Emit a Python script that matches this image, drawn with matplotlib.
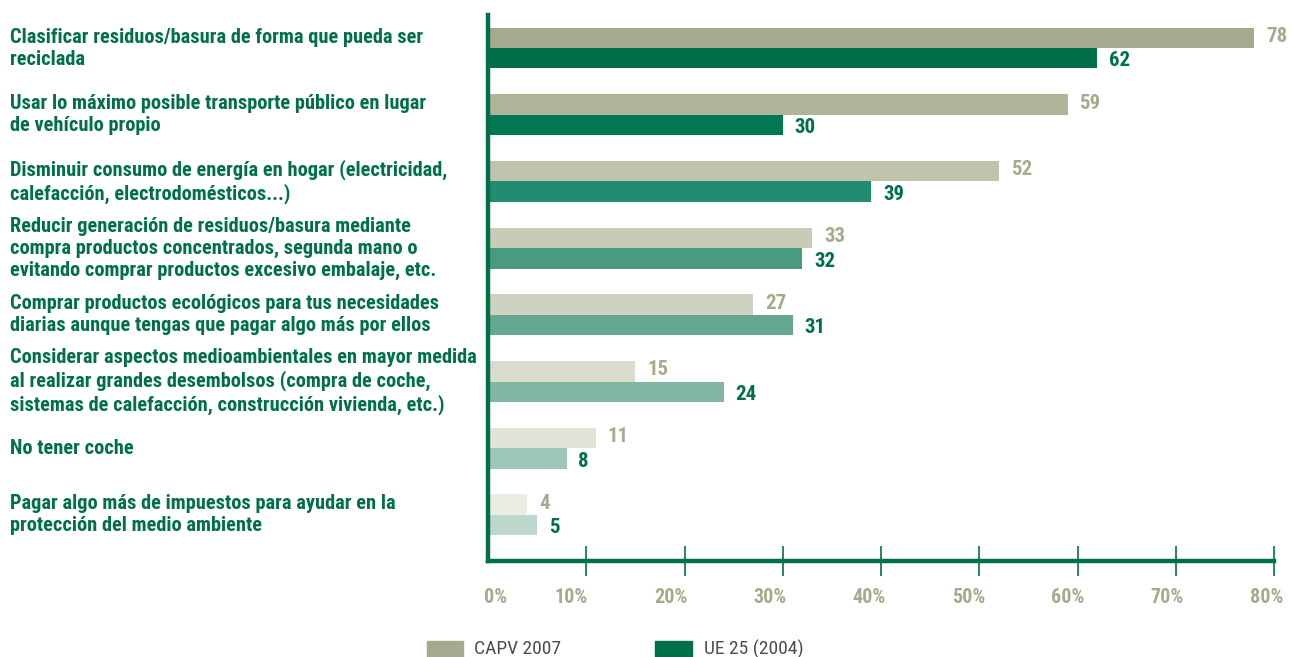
import matplotlib
matplotlib.use("Agg")
import matplotlib.pyplot as plt
from matplotlib import font_manager
from matplotlib.patches import Rectangle
from matplotlib.transforms import ScaledTranslation

# fuente estrecha si existe alguna instalada
disponibles = {f.name for f in font_manager.fontManager.ttflist}
lista = ['Liberation Sans Narrow', 'Roboto Condensed', 'Open Sans Condensed']
familia = next((n for n in lista if n in disponibles), None)
estiramiento = 'normal'
if familia is None:
    familia = 'DejaVu Sans'
    estiramiento = 'condensed'
plt.rcParams['font.family'] = [familia, 'DejaVu Sans']
plt.rcParams['font.stretch'] = estiramiento

# acciones, de mayor a menor respuesta en la CAPV
acciones = [
    "Clasificar residuos/basura de forma que pueda ser\nreciclada",
    "Usar lo máximo posible transporte público en lugar\nde vehículo propio",
    "Disminuir consumo de energía en hogar (electricidad,\ncalefacción, electrodomésticos...)",
    "Reducir generación de residuos/basura mediante\ncompra productos concentrados, segunda mano o\nevitando comprar productos excesivo embalaje, etc.",
    "Comprar productos ecológicos para tus necesidades\ndiarias aunque tengas que pagar algo más por ellos",
    "Considerar aspectos medioambientales en mayor medida\nal realizar grandes desembolsos (compra de coche,\nsistemas de calefacción, construcción vivienda, etc.)",
    "No tener coche",
    "Pagar algo más de impuestos para ayudar en la\nprotección del medio ambiente",
]
capv_2007 = [78, 59, 52, 33, 27, 15, 11, 4]
ue25_2004 = [62, 30, 39, 32, 31, 24, 8, 5]

# colores que se aclaran de una fila a la siguiente
col_capv = ["#a6a98d", "#afb398", "#c0c3ac", "#c8cbb6", "#d0d2c0", "#dadccc", "#e3e4d9", "#ebece4"]
col_ue = ["#00704a", "#007853", "#228c70", "#4a9a7e", "#66a792", "#82b6a3", "#9ec6b7", "#bcd8cd"]

verde = "#00704a"
gris = "#a8aa8e"

fig = plt.figure(figsize=(12.92, 6.57), dpi=100)
ax = fig.add_axes([488/1292, 1 - 561/657, (1274 - 488)/1292, (561 - 15)/657])

alto = 0.307
for i in range(len(acciones)):
    ax.barh(i - alto/2, capv_2007[i], height=alto, color=col_capv[i])
    ax.barh(i + alto/2, ue25_2004[i], height=alto, color=col_ue[i])
    ax.text(capv_2007[i] + 1.2, i - alto/2 - 0.02, str(capv_2007[i]), color=gris,
            fontsize=15, fontweight='bold', va='center', ha='left')
    ax.text(ue25_2004[i] + 1.2, i + alto/2 + 0.04, str(ue25_2004[i]), color=verde,
            fontsize=15, fontweight='bold', va='center', ha='left')
    ax.text(-48.7, i, acciones[i], color=verde, fontsize=14.7, fontweight='bold',
            va='center', ha='left', linespacing=1.2)

ax.set_xlim(0, 80)
ax.set_ylim(7.69, -0.495)
ax.set_yticks([])

ticks = list(range(0, 90, 10))
ax.set_xticks(ticks)
ax.set_xticklabels([f"{t}%" for t in ticks], color=gris, fontsize=14.5,
                   fontweight='bold', ha='right')
ax.tick_params(axis='x', direction='inout', length=21, width=1.2, color=verde, pad=9)
ax.xaxis.get_major_ticks()[0].tick1line.set_visible(False)

# desplazar las etiquetas del eje un poco a la derecha, el 0% algo más
for k, lab in enumerate(ax.get_xticklabels()):
    dx = 19 if k == 0 else 1 + k
    lab.set_transform(lab.get_transform() + ScaledTranslation(dx/100, 0, fig.dpi_scale_trans))

for s in ['top', 'right']:
    ax.spines[s].set_visible(False)
for s in ['left', 'bottom']:
    ax.spines[s].set_color(verde)
    ax.spines[s].set_linewidth(3.2)

# leyenda
fig.patches.append(Rectangle((427/1292, 0), 36/1292, 16/657, transform=fig.transFigure,
                             color=col_capv[0]))
fig.patches.append(Rectangle((655/1292, 0), 37/1292, 16/657, transform=fig.transFigure,
                             color=col_ue[0]))
fig.text(474/1292, 8/657, "CAPV 2007", color="#4d4d4d", fontsize=14, va='center')
fig.text(704/1292, 8/657, "UE 25 (2004)", color="#4d4d4d", fontsize=14, va='center')

fig.savefig("out.png", dpi=100)
